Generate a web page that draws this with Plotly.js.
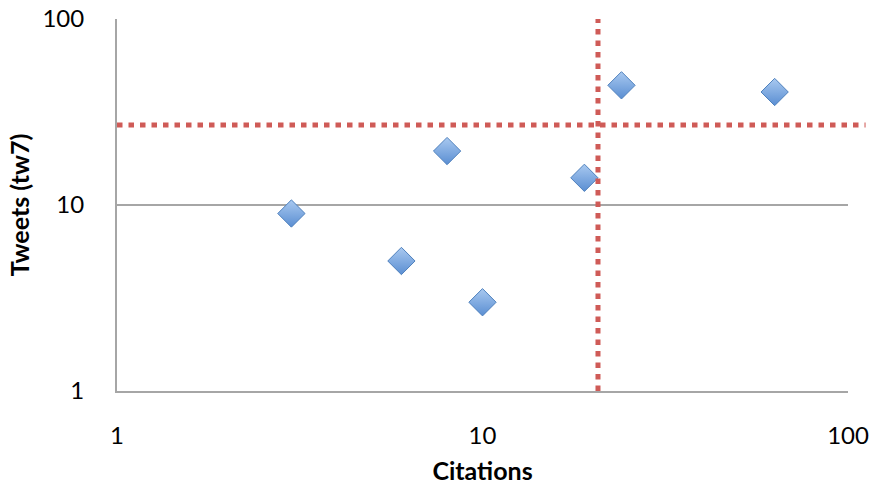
<!DOCTYPE html>
<html>
<head>
<meta charset="utf-8">
<script src="https://cdn.plot.ly/plotly-3.0.1.min.js"></script>
<style>html,body{margin:0;padding:0;background:#fff;}#chart{width:871px;height:485px;}</style>
</head>
<body>
<div id="chart"></div>
<script>
const citations = [3, 6, 8, 10, 19, 24, 63];
const tweets = [9, 5, 19.5, 3, 14, 44, 40.5];
const citationThreshold = 20.7;
const tweetThreshold = 26.9;
const tickVals = [1, 10, 100];
const tickText = ['1', '10', '100'];
const xTitle = 'Citations';
const yTitle = 'Tweets (tw7)';

const dotLine = {color: '#cf5b57', width: 5, dash: '5.5px,6px'};

const trace = {
  x: citations,
  y: tweets,
  type: 'scatter',
  mode: 'markers',
  marker: {
    symbol: 'diamond',
    size: 21,
    color: '#a9c9f0',
    gradient: {type: 'vertical', color: '#5a8ed2'},
    line: {color: '#4f81bd', width: 1}
  },
  hoverinfo: 'x+y'
};

const layout = {
  width: 871,
  height: 485,
  margin: {l: 117, r: 23, t: 19, b: 94},
  paper_bgcolor: '#ffffff',
  plot_bgcolor: '#ffffff',
  showlegend: false,
  font: {family: 'Lato, "Open Sans", sans-serif', color: '#000'},
  xaxis: {
    type: 'log',
    range: [0, 2],
    tickvals: tickVals,
    ticktext: tickText,
    tickfont: {size: 24, family: 'Lato'},
    ticks: '',
    ticklabelstandoff: 22,
    showgrid: false,
    zeroline: false,
    showline: true,
    linecolor: '#a6a6a6',
    linewidth: 2,
    title: {text: xTitle, font: {size: 25, family: 'Lato', weight: 'bold'}, standoff: 20}
  },
  yaxis: {
    type: 'log',
    range: [0, 2],
    tickvals: tickVals,
    ticktext: tickText,
    tickfont: {size: 24, family: 'Lato'},
    ticks: '',
    ticklabelstandoff: 26,
    showgrid: true,
    gridcolor: '#a6a6a6',
    gridwidth: 2,
    zeroline: false,
    showline: true,
    linecolor: '#a6a6a6',
    linewidth: 2,
    title: {text: yTitle, font: {size: 25, family: 'Lato', weight: 'bold'}, standoff: 6}
  },
  shapes: [
    {type: 'line', xref: 'x', yref: 'paper', x0: citationThreshold, x1: citationThreshold, y0: 0, y1: 1, line: dotLine, layer: 'above'},
    {type: 'line', xref: 'paper', yref: 'y', x0: 0, x1: 1.024, y0: tweetThreshold, y1: tweetThreshold, line: dotLine, layer: 'above'}
  ]
};

Plotly.newPlot('chart', [trace], layout, {displayModeBar: false, staticPlot: true});
</script>
</body>
</html>
